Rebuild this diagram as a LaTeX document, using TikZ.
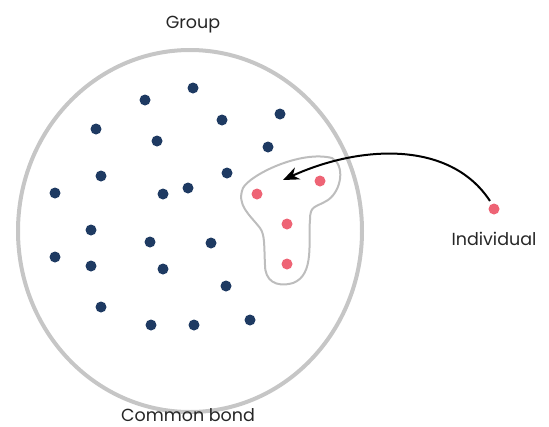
\documentclass[tikz,border=0pt]{standalone}
\usepackage{fontspec}
\setmainfont{Poppins}
\usetikzlibrary{arrows.meta}
\definecolor{navy}{HTML}{1E3A62}
\definecolor{pinkred}{HTML}{EE6475}
\definecolor{ringgray}{HTML}{C6C6C6}
\definecolor{blobgray}{HTML}{BDBDBD}
\tikzset{
  member/.style={circle,fill=navy,inner sep=0pt,minimum size=11pt},
  chosen/.style={circle,fill=pinkred,inner sep=0pt,minimum size=11pt},
  lbl/.style={font=\fontsize{17.5}{20}\selectfont,text=black!85,inner sep=0pt},
}
\begin{document}
\begin{tikzpicture}[x=1pt,y=-1pt]
\useasboundingbox (0,0) rectangle (549,426);
\draw[ringgray,line width=4pt] (190,231) ellipse [x radius=172, y radius=181];
\foreach \p [count=\i] in {(145,100),(193,88),(96,129),(157,141),(222,120),(280,114),(268,147),(101,176),(55,193),(163,194),(188,188),(227,173),(91,230),(150,242),(211,243),(55,257),(91,266),(163,269),(226,286),(101,307),(151,325),(194,325),(250,320)}
  \node[member] (m\i) at \p {};
\draw[blobgray,line width=2pt] (243,188)
  .. controls (250,175) and (300,150) .. (332,158)
  .. controls (345,165) and (342,190) .. (328,200)
  .. controls (315,208) and (310,205) .. (310,220)
  .. controls (308,240) and (315,275) .. (293,283)
  .. controls (275,288) and (265,280) .. (265,265)
  .. controls (264,245) and (265,235) .. (260,228)
  .. controls (250,215) and (236,205) .. (243,188) -- cycle;
\node[chosen] (r1) at (257,194) {};
\node[chosen] (r2) at (320,181) {};
\node[chosen] (r3) at (287,224) {};
\node[chosen] (r4) at (287,264) {};
\node[chosen] (ind) at (494,209) {};
\coordinate (tip) at (283,180);
\draw[black,line width=2pt,-{Stealth[length=16pt,width=13pt]}] (ind.north west) ++(0,-4) .. controls (450,140) and (360,145) .. (tip);
\node[lbl] (group) at (193,25) {Group};
\node[lbl] (indl) at (494,239) {Individual};
\node[lbl] (bond) at (188,415) {Common bond};
\end{tikzpicture}
\end{document}
